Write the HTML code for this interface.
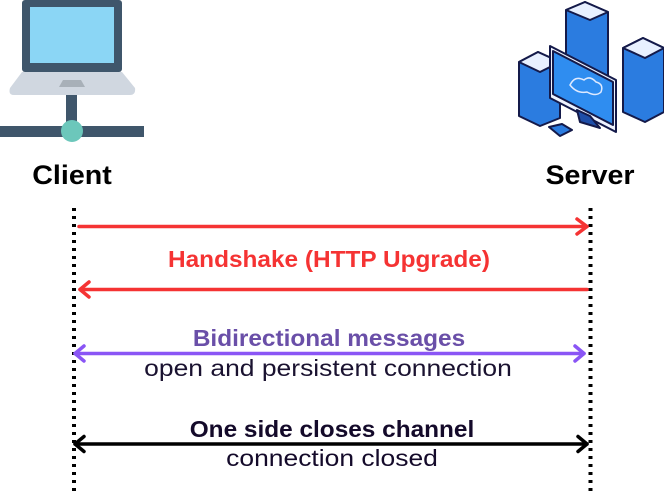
<!DOCTYPE html>
<html><head><meta charset="utf-8"><style>
body{margin:0;background:#fff;width:664px;height:496px;overflow:hidden;position:relative;font-family:"Liberation Sans",sans-serif}
.t{position:absolute;white-space:nowrap;transform:translateX(-50%) scaleX(1.06)}
.r{transform:translateX(-50%) scaleX(1.15)}
</style></head><body>
<svg width="664" height="496" style="position:absolute;left:0;top:0">
<!-- client icon -->
<rect x="22" y="0" width="100" height="72" rx="3" fill="#3f566b"/>
<rect x="30" y="7" width="84" height="56" fill="#8bd6f5"/>
<path d="M22 72 H122 L135 88 Q136 95 130 95 H14 Q8 95 10 88 Z" fill="#d0d7e0"/>
<path d="M63 80 H81 L85 87 H59 Z" fill="#a8b0b8"/>
<rect x="66" y="95" width="11" height="33" fill="#3f566b"/>
<rect x="0" y="126" width="144" height="11" fill="#3f566b"/>
<circle cx="72" cy="131" r="11" fill="#6cc7bb"/>
<!-- server icon -->
<g stroke="#141a4a" stroke-width="2" stroke-linejoin="round">
<path d="M566 10 L585 2 L608 12 L608 78 L590 86 L566 76 Z" fill="#2b7ce0"/>
<path d="M566 10 L585 2 L608 12 L590 20 Z" fill="#e8f0ff"/>
<path d="M623 48 L643 38 L664 48 L664 112 L645 122 L623 112 Z" fill="#2b7ce0"/>
<path d="M623 48 L643 38 L664 48 L645 58 Z" fill="#e8f0ff"/>
<path d="M519 62 L538 52 L560 62 L560 118 L540 126 L519 116 Z" fill="#2b7ce0"/>
<path d="M519 62 L538 52 L560 62 L540 72 Z" fill="#e8f0ff"/>
<path d="M550 46 L616 80 L616 132 L550 98 Z" fill="#eef3ff"/>
<path d="M553 51 L613 82 L613 125 L553 94 Z" fill="#2f8df0"/>
<path d="M577 110 L590 116 L600 128 L580 122 Z" fill="#1e4ea8"/>
<path d="M549 127 L562 124 L572 130 L560 136 Z" fill="#2b7ce0"/>
</g>
<path d="M570 85 q5-10 14-5 q6-5 12 2 q8 2 5 10 q-5 5-14 0 q-10 2-17-7z" fill="none" stroke="#dfeaff" stroke-width="1.5"/>
<!-- dotted lines -->
<line x1="74" y1="208" x2="74" y2="496" stroke="#000" stroke-width="4" stroke-dasharray="3 5"/>
<line x1="590.5" y1="208" x2="590.5" y2="496" stroke="#000" stroke-width="4" stroke-dasharray="3 5"/>
<g fill="none" stroke-width="3.5" stroke-linecap="round" stroke-linejoin="round">
<g stroke="#f53333">
<line x1="79" y1="226.5" x2="587" y2="226.5"/>
<path d="M577 219 L587 226.5 L577 234"/>
<line x1="80" y1="289.5" x2="587" y2="289.5"/>
<path d="M89 282 L80 289.5 L89 297"/>
</g>
<g stroke="#8a55f5">
<line x1="75" y1="353.5" x2="584" y2="353.5"/>
<path d="M84 346 L75 353.5 L84 361"/>
<path d="M575 346 L584 353.5 L575 361"/>
</g>
<g stroke="#000">
<line x1="75" y1="444" x2="587" y2="444"/>
<path d="M84 436.5 L75 444 L84 451.5"/>
<path d="M578 436.5 L587 444 L578 451.5"/>
</g>
</g>
</svg>
<div class="t" style="left:72px;top:160px;font-size:27px;font-weight:bold;color:#000">Client</div>
<div class="t" style="left:590px;top:160px;font-size:27px;font-weight:bold;color:#000">Server</div>
<div class="t" style="left:329px;top:246px;font-size:23px;font-weight:bold;color:#f53333">Handshake (HTTP Upgrade)</div>
<div class="t" style="left:329px;top:325px;font-size:23px;font-weight:bold;color:#6a4fa8">Bidirectional messages</div>
<div class="t r" style="left:328px;top:355px;font-size:23px;color:#1a1230">open and persistent connection</div>
<div class="t" style="left:332px;top:416px;font-size:23px;font-weight:bold;color:#140a2a">One side closes channel</div>
<div class="t r" style="left:332px;top:445px;font-size:23px;color:#140a2a">connection closed</div>
</body></html>
